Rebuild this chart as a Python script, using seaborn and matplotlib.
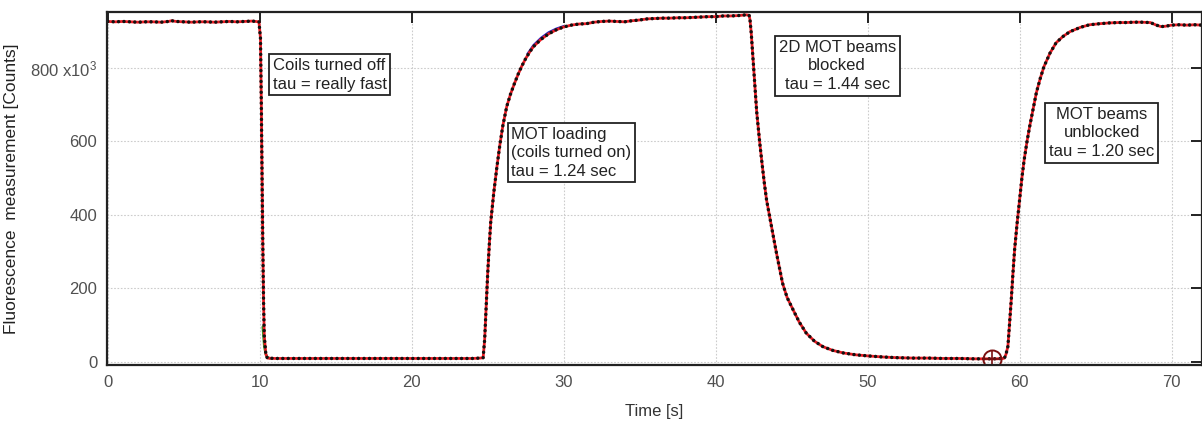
import matplotlib
matplotlib.use("Agg")
import matplotlib.pyplot as plt
import seaborn as sns
import pandas as pd

# ---- data (counts in thousands) ----
time_s = [0, 0.5, 1, 1.5, 2, 2.5, 3, 3.5, 4, 4.2, 4.5, 5, 5.5, 6, 6.5, 7, 7.5, 8, 8.5, 9, 9.5, 9.95,
          10.05, 10.1, 10.15, 10.2, 10.25, 10.3, 10.4, 10.5, 11, 11.5, 12, 12.5, 13, 13.5, 14, 14.5, 15,
          15.5, 16, 16.5, 17, 17.5, 18, 18.5, 19, 19.5, 20, 20.5, 21, 21.5, 22, 22.5, 23, 23.5, 24, 24.5,
          24.7, 24.8, 24.9, 25.0, 25.1, 25.2, 25.4, 25.6, 25.8, 26.0, 26.25, 26.5, 26.75, 27.0, 27.25,
          27.5, 27.75, 28.0, 28.5, 29.0, 29.5, 30.0, 30.5, 31.0, 31.5, 32, 32.5, 33, 33.5, 34, 34.5, 35,
          35.5, 36, 36.5, 37, 37.5, 38, 38.5, 39, 39.5, 40, 40.5, 41, 41.5, 42, 42.2,
          42.26, 42.34, 42.46, 42.57, 42.7, 42.9, 43.05, 43.2, 43.35, 43.55, 43.8, 44.0, 44.2, 44.4,
          44.7, 45.1, 45.5, 45.96, 46.5, 47.06, 47.7, 48.4, 49.2, 50, 51, 52, 53, 54, 55, 56, 57, 58,
          58.5, 58.9, 59.0, 59.1, 59.23, 59.35, 59.45, 59.56, 59.67, 59.83, 60.0, 60.15, 60.3, 60.48,
          60.66, 60.9, 61.1, 61.35, 61.6, 62.0, 62.4, 62.85, 63.3, 64.0, 64.6, 65.3, 65.9, 66.5, 67,
          67.5, 68, 68.6, 69.0, 69.3, 69.6, 70, 70.5, 71, 71.5, 72]
counts_k = [926, 925, 926, 925, 924, 925, 925, 924, 926, 928, 926, 925, 924, 925, 925, 924, 925, 926, 925, 926, 927, 925,
            880, 720, 520, 330, 170, 70, 22, 10, 9, 9, 9, 9, 9, 9, 9, 9, 9,
            9, 9, 9, 9, 9, 9, 9, 9, 9, 9, 9, 9, 9, 9, 9, 9, 9, 9, 10,
            11, 60, 150, 240, 315, 380, 460, 528, 590, 643, 694, 728, 756, 782, 805,
            825, 842, 857, 877, 892, 903, 911, 916, 919, 920, 924, 926, 927, 926, 925, 928, 930,
            933, 934, 935, 935, 936, 936, 937, 938, 939, 939, 941, 941, 942, 944, 943,
            930, 895, 822, 759, 680, 596, 540, 487, 440, 395, 340, 296, 255, 214,
            175, 141, 108, 78, 56, 41, 31, 24, 19, 16, 13, 11, 10, 10, 9, 9, 8, 8,
            8, 9, 10, 20, 42, 110, 169, 240, 305, 375, 441, 500, 550, 598,
            640, 690, 732, 770, 803, 840, 868, 885, 898, 910, 917, 920, 922, 923, 923,
            924, 924, 923, 916, 912, 913, 916, 917, 916, 917, 916]

green_t = [10.2, 10.3, 10.4, 10.5, 10.7]
green_k = [95, 42, 20, 12, 9]

blue_t = [27.6, 28.0, 28.5, 29.0, 29.5, 30.0]
blue_k = [838, 862, 882, 897, 907, 914]

marker_t = [58.2]
marker_k = [8]

yticks = [0, 200, 400, 600, 800]
ytick_labels = ["0", "200", "400", "600", "800 x10$^3$"]
xticks = [0, 10, 20, 30, 40, 50, 60, 70]

notes = [
    ("Coils turned off\ntau = really fast", 14.6, 781, "left"),
    ("MOT loading\n(coils turned on)\ntau = 1.24 sec", 30.5, 569, "left"),
    ("2D MOT beams\nblocked\ntau = 1.44 sec", 48.0, 805, "center"),
    ("MOT beams\nunblocked\ntau = 1.20 sec", 65.4, 623, "center"),
]

# ---- plot ----
sns.set_style("white")
plt.rcParams["font.family"] = ["Liberation Sans", "DejaVu Sans"]
plt.rcParams["mathtext.default"] = "regular"

df = pd.DataFrame({"t": time_s, "c": counts_k})
fig = plt.figure(figsize=(12.02, 4.25), dpi=100)
ax = fig.add_axes([0.089, 0.141, 0.911, 0.831])

sns.lineplot(x=green_t, y=green_k, ax=ax, color="#1aa31a", lw=1.8, sort=False, estimator=None)
sns.lineplot(x=blue_t, y=blue_k, ax=ax, color="#2020c0", lw=1.2, sort=False, estimator=None)
sns.lineplot(data=df, x="t", y="c", ax=ax, color="#ee1c24", lw=2.0, sort=False, estimator=None)
sns.lineplot(data=df, x="t", y="c", ax=ax, color="#111111", lw=2.5, ls=(0, (0.01, 1.55)),
             dash_capstyle="round", sort=False, estimator=None)

ax.plot(marker_t, marker_k, marker="o", ms=13, mfc="none", mec="#7a1010", mew=1.4, ls="none")
ax.plot(marker_t, marker_k, marker="+", ms=13, mec="#7a1010", mew=1.2, ls="none")

ax.set_xlim(-0.05, 72.0)
ax.set_ylim(-9, 952)
ax.set_xticks(xticks)
ax.set_yticks(yticks)
ax.set_yticklabels(ytick_labels)
ax.grid(True, color="#cccccc", ls=(0, (1.5, 1.5)), lw=0.8)

ax.tick_params(direction="in", length=8, width=1.4, top=True, right=True,
               labelsize=12, labelcolor="#505050", color="#222222", pad=7)
for s in ax.spines.values():
    s.set_color("#222222")
    s.set_linewidth(1.6)

ax.set_xlabel("Time [s]", fontsize=12, color="#333333", labelpad=10)
ax.set_ylabel("Fluorescence  measurement [Counts]", fontsize=12.5, color="#222222", labelpad=8)

for txt, x, y, ha in notes:
    ax.text(x, y, txt, ha="center", va="center", multialignment=ha, fontsize=12, color="#222222",
            linespacing=1.3,
            bbox=dict(boxstyle="square,pad=0.22", fc="white", ec="#222222", lw=1.3))

fig.savefig("out.png", dpi=100)
